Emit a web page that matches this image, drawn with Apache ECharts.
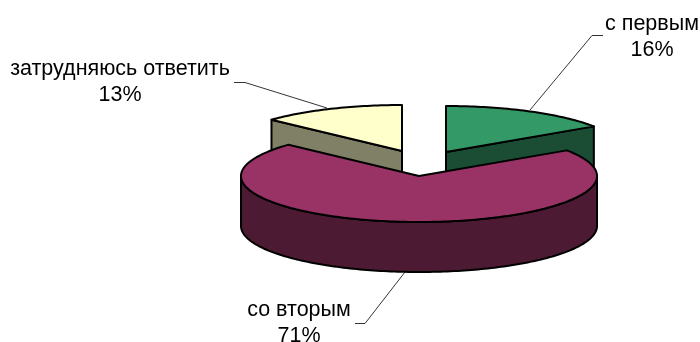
<!DOCTYPE html>
<html>
<head>
<meta charset="utf-8">
<style>
html, body { margin: 0; padding: 0; background: #fff; }
#chart { width: 700px; height: 342px; }
</style>
<script src="https://cdn.jsdelivr.net/npm/echarts@6/dist/echarts.min.js"></script>
</head>
<body>
<div id="chart"></div>
<script>
var categories = ['с первым', 'со вторым', 'затрудняюсь ответить']
var values = [15.6, 71.3, 13.1]

// pie geometry, in pixels
var rx = 178, ry = 46, depth = 50
var centers = [[446, 152], [419, 176], [402, 151]]
var topColors = ['#339966', '#993366', '#FFFFCC']
var sideColors = ['#1A4D33', '#4D1A33', '#808066']
var layers = [1, 3, 2]
var leaders = [
  [[603, 35.5], [592, 35.5], [530, 110]],
  [[355, 323.5], [365, 323.5], [405, 272]],
  [[234, 82.5], [245, 82.5], [327, 108]]
]
var labelPos = [[652, 24, 50], [299, 310, 336], [120, 69, 95]]

var total = values.reduce(function (a, b) { return a + b }, 0)

function rad (v) {
  return v / total * Math.PI * 2
}

function pt (c, a, dy) {
  return [c[0] + rx * Math.sin(a), c[1] - ry * Math.cos(a) + (dy || 0)]
}

function arc (c, from, to, dy) {
  var pts = []
  var n = Math.max(2, Math.ceil((to - from) / 0.02))
  for (var i = 0; i <= n; i++) {
    pts.push(pt(c, from + (to - from) * i / n, dy))
  }
  return pts
}

function poly (points, fill, z) {
  return {
    type: 'polygon',
    z2: z,
    shape: { points: points },
    style: { fill: fill, stroke: '#000', lineWidth: 2, lineJoin: 'round' }
  }
}

function labelText (x, y, text) {
  return {
    type: 'text',
    z2: 41,
    style: {
      x: x, y: y,
      text: text,
      fill: '#000', font: '21.5px "Liberation Sans", Arial, sans-serif',
      align: 'center', verticalAlign: 'middle'
    }
  }
}

function renderSlice (params, api) {
  var i = params.dataIndex
  var v = api.value(0)
  var start = 0
  for (var k = 0; k < i; k++) start += rad(values[k])
  var end = start + rad(v)
  var c = centers[i]
  var z = layers[i] * 10
  var children = []

  // cut faces, only the ones turned to the viewer
  if (i === 0) {
    var p = pt(c, end)
    children.push(poly([c, p, [p[0], p[1] + depth], [c[0], c[1] + depth]], sideColors[i], z))
  }
  if (i === 2) {
    var q = pt(c, start)
    children.push(poly([q, c, [c[0], c[1] + depth], [q[0], q[1] + depth]], sideColors[i], z))
  }

  // outer wall, front half of the rim
  var wallFrom = Math.max(start, Math.PI / 2)
  var wallTo = Math.min(end, Math.PI * 3 / 2)
  if (wallTo > wallFrom) {
    var wall = arc(c, wallFrom, wallTo, 0).concat(arc(c, wallFrom, wallTo, depth).reverse())
    children.push(poly(wall, sideColors[i], z))
  }

  // top face
  children.push(poly([c].concat(arc(c, start, end)), topColors[i], z + 1))

  // leader line
  children.push({
    type: 'polyline',
    z2: 40,
    shape: { points: leaders[i] },
    style: { fill: null, stroke: '#000', lineWidth: 0.8 }
  })

  children.push(labelText(labelPos[i][0], labelPos[i][1], categories[i]))
  children.push(labelText(labelPos[i][0], labelPos[i][2], Math.round(v) + '%'))

  return { type: 'group', children: children }
}

var chart = echarts.init(document.getElementById('chart'), null, { renderer: 'canvas' })
chart.setOption({
  backgroundColor: '#fff',
  animation: false,
  series: [{
    type: 'custom',
    coordinateSystem: 'none',
    renderItem: renderSlice,
    data: values
  }]
})
</script>
</body>
</html>
